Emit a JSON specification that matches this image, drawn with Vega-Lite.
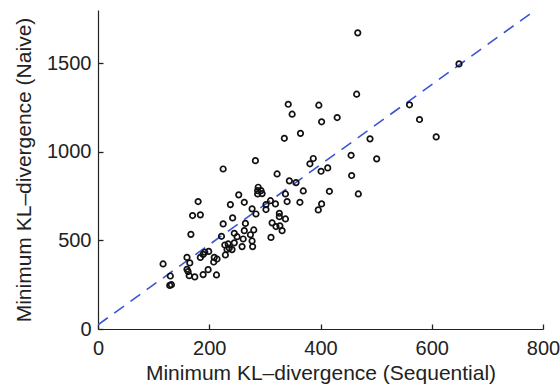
{
  "$schema": "https://vega.github.io/schema/vega-lite/v6.json",
  "width": 445,
  "height": 319,
  "autosize": "none",
  "padding": {"left": 98, "top": 10, "right": 17, "bottom": 61},
  "background": "white",
  "config": {
    "view": {"stroke": null},
    "font": "Liberation Sans",
    "axis": {
      "grid": false,
      "domainColor": "#222",
      "domainWidth": 1.2,
      "tickColor": "#222",
      "tickWidth": 1.3,
      "tickSize": -5,
      "labelFont": "Liberation Sans",
      "labelFontSize": 20,
      "labelColor": "#222",
      "titleFont": "Liberation Sans",
      "titleFontSize": 21,
      "titleFontWeight": "normal",
      "titleColor": "#222"
    }
  },
  "datasets": {
    "pts": [
      {"seq": 467, "naive": 1671}, {"seq": 649, "naive": 1496}, {"seq": 465, "naive": 1325},
      {"seq": 342, "naive": 1268}, {"seq": 349, "naive": 1212}, {"seq": 397, "naive": 1263},
      {"seq": 402, "naive": 1169}, {"seq": 430, "naive": 1193}, {"seq": 560, "naive": 1265},
      {"seq": 578, "naive": 1182}, {"seq": 608, "naive": 1084}, {"seq": 489, "naive": 1073},
      {"seq": 335, "naive": 1076}, {"seq": 364, "naive": 1104},
      {"seq": 225, "naive": 903}, {"seq": 283, "naive": 950}, {"seq": 387, "naive": 962},
      {"seq": 381, "naive": 932}, {"seq": 455, "naive": 980}, {"seq": 501, "naive": 960},
      {"seq": 401, "naive": 890}, {"seq": 413, "naive": 909}, {"seq": 456, "naive": 866},
      {"seq": 322, "naive": 875}, {"seq": 468, "naive": 762}, {"seq": 416, "naive": 777},
      {"seq": 369, "naive": 779}, {"seq": 344, "naive": 836}, {"seq": 356, "naive": 826},
      {"seq": 288, "naive": 800}, {"seq": 287, "naive": 781}, {"seq": 293, "naive": 781},
      {"seq": 287, "naive": 762}, {"seq": 295, "naive": 764}, {"seq": 337, "naive": 762},
      {"seq": 253, "naive": 757}, {"seq": 238, "naive": 702}, {"seq": 263, "naive": 715},
      {"seq": 310, "naive": 724}, {"seq": 319, "naive": 706}, {"seq": 302, "naive": 702},
      {"seq": 302, "naive": 674}, {"seq": 277, "naive": 678}, {"seq": 284, "naive": 649},
      {"seq": 340, "naive": 719}, {"seq": 363, "naive": 715}, {"seq": 402, "naive": 706},
      {"seq": 396, "naive": 672}, {"seq": 180, "naive": 719}, {"seq": 170, "naive": 640},
      {"seq": 184, "naive": 644}, {"seq": 242, "naive": 627}, {"seq": 225, "naive": 593},
      {"seq": 265, "naive": 596}, {"seq": 326, "naive": 653}, {"seq": 326, "naive": 634},
      {"seq": 313, "naive": 599}, {"seq": 337, "naive": 621}, {"seq": 320, "naive": 578},
      {"seq": 327, "naive": 582}, {"seq": 331, "naive": 555}, {"seq": 311, "naive": 517},
      {"seq": 280, "naive": 559}, {"seq": 274, "naive": 532}, {"seq": 263, "naive": 555},
      {"seq": 167, "naive": 534}, {"seq": 222, "naive": 523}, {"seq": 245, "naive": 540},
      {"seq": 250, "naive": 521}, {"seq": 261, "naive": 508}, {"seq": 277, "naive": 497},
      {"seq": 278, "naive": 465}, {"seq": 259, "naive": 465}, {"seq": 228, "naive": 474},
      {"seq": 234, "naive": 480}, {"seq": 236, "naive": 457}, {"seq": 232, "naive": 449},
      {"seq": 241, "naive": 448}, {"seq": 245, "naive": 486}, {"seq": 229, "naive": 418},
      {"seq": 199, "naive": 438}, {"seq": 192, "naive": 433}, {"seq": 189, "naive": 421},
      {"seq": 184, "naive": 404}, {"seq": 209, "naive": 404}, {"seq": 214, "naive": 395},
      {"seq": 208, "naive": 378}, {"seq": 160, "naive": 404}, {"seq": 165, "naive": 373},
      {"seq": 117, "naive": 367}, {"seq": 160, "naive": 337}, {"seq": 162, "naive": 324},
      {"seq": 164, "naive": 301}, {"seq": 174, "naive": 294}, {"seq": 189, "naive": 307},
      {"seq": 198, "naive": 335}, {"seq": 213, "naive": 305}, {"seq": 130, "naive": 299},
      {"seq": 129, "naive": 246}, {"seq": 132, "naive": 250}
    ],
    "fit": [
      {"seq": 0, "naive": 24}, {"seq": 790, "naive": 1808}
    ]
  },
  "layer": [
    {
      "data": {"name": "fit"},
      "mark": {"type": "line", "color": "#3a56d4", "strokeWidth": 1.6, "strokeDash": [12, 8], "clip": true},
      "encoding": {
        "x": {"field": "seq", "type": "quantitative"},
        "y": {"field": "naive", "type": "quantitative"}
      }
    },
    {
      "data": {"name": "pts"},
      "mark": {"type": "point", "shape": "circle", "filled": false, "color": "#111", "size": 30, "strokeWidth": 1.7, "opacity": 1},
      "encoding": {
        "x": {
          "field": "seq", "type": "quantitative",
          "scale": {"domain": [0, 800], "nice": false, "zero": false},
          "axis": {"values": [0, 200, 400, 600, 800], "format": "d", "title": "Minimum KL–divergence (Sequential)", "labelPadding": 14, "titlePadding": 4, "labelFlush": false}
        },
        "y": {
          "field": "naive", "type": "quantitative",
          "scale": {"domain": [0, 1800], "nice": false, "zero": false},
          "axis": {"values": [0, 500, 1000, 1500], "format": "d", "title": "Minimum KL–divergence (Naive)", "labelPadding": 12, "titlePadding": 12, "labelFlush": false}
        }
      }
    }
  ]
}
